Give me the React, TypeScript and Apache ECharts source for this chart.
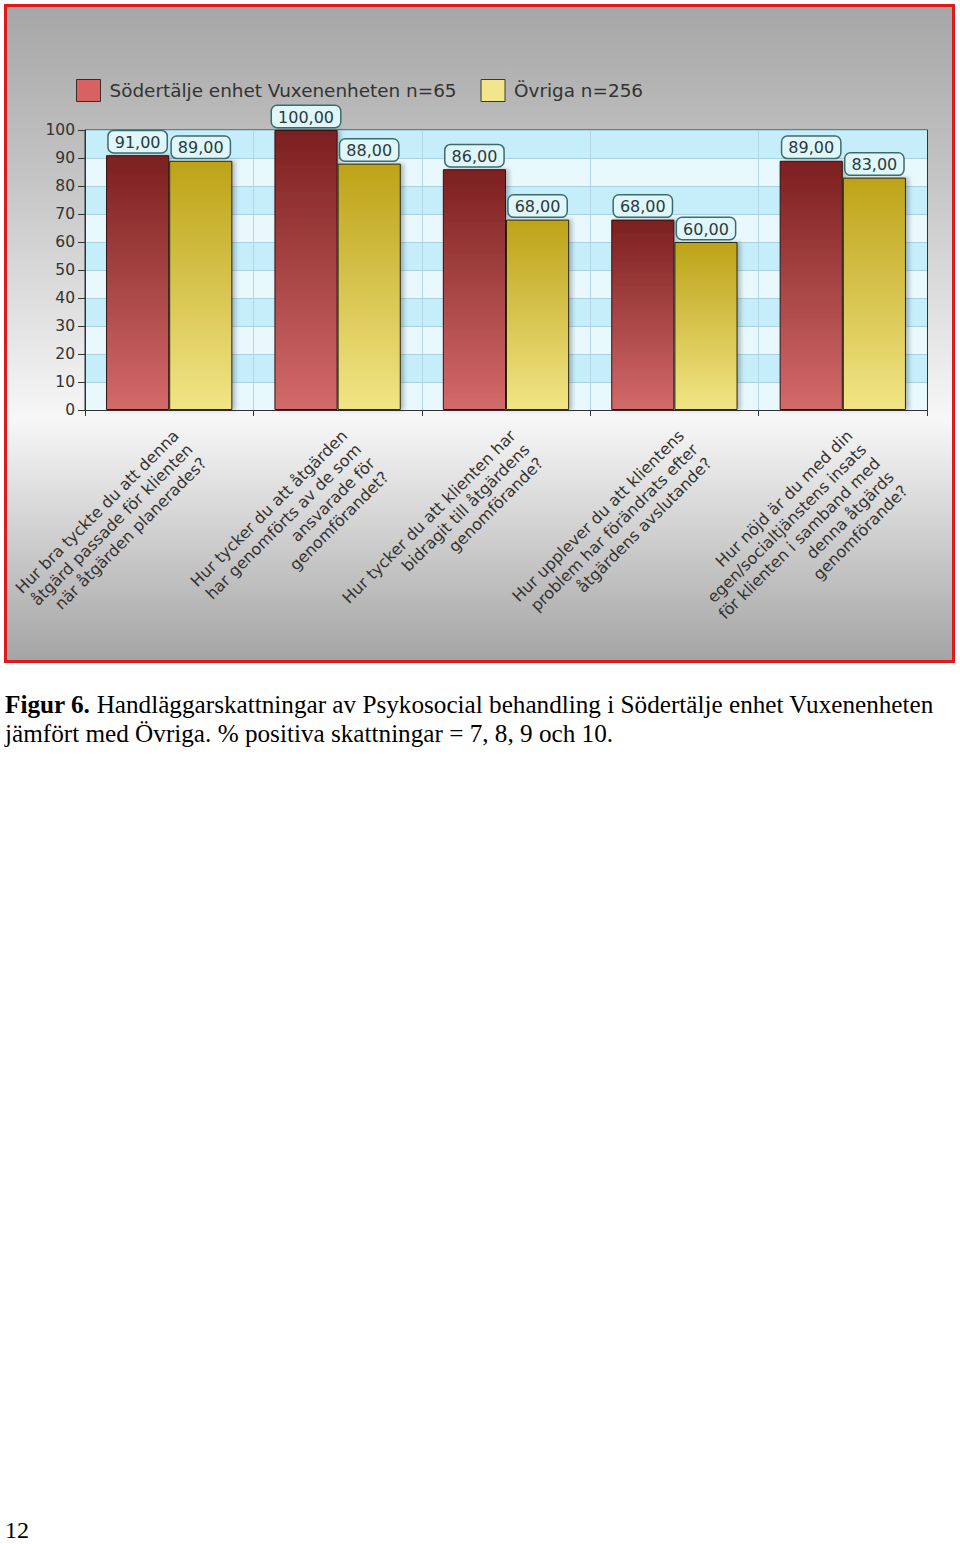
import React, { useEffect, useRef } from "react";
import * as echarts from "echarts";

const categories = [
  "Hur bra tyckte du att denna\nåtgärd passade för klienten\nnär åtgärden planerades?",
  "Hur tycker du att åtgärden\nhar genomförts av de som\nansvarade för\ngenomförandet?",
  "Hur tycker du att klienten har\nbidragit till åtgärdens\ngenomförande?",
  "Hur upplever du att klientens\nproblem har förändrats efter\nåtgärdens avslutande?",
  "Hur nöjd är du med din\negen/socialtjänstens insats\nför klienten i samband med\ndenna åtgärds\ngenomförande?",
];
const seriesNames = ["Södertälje enhet Vuxenenheten n=65", "Övriga n=256"];
const sodertaljeValues = [91, 100, 86, 68, 89];
const ovrigaValues = [89, 88, 68, 60, 83];
const yMin = 0;
const yMax = 100;
const yInterval = 10;
const captionBold = "Figur 6.";
const captionLine1 = " Handläggarskattningar av Psykosocial behandling i Södertälje enhet Vuxenenheten";
const captionLine2 = "jämfört med Övriga. % positiva skattningar = 7, 8, 9 och 10.";
const pageNumber = "12";

const FONT = "'DejaVu Sans', Verdana, sans-serif";
const SERIF = "'Liberation Serif', 'Times New Roman', serif";

export default function App() {
  const ref = useRef<HTMLDivElement>(null);
  useEffect(() => {
    if (!ref.current) return;
    const chart = echarts.init(ref.current, null, { renderer: "svg" });
    const valueLabel = {
      show: true,
      position: "top" as const,
      distance: 3,
      formatter: (p: any) => Number(p.value).toFixed(2).replace(".", ","),
      fontFamily: FONT,
      fontSize: 16,
      color: "#2b3a3a",
      backgroundColor: "#dff7fb",
      borderColor: "#3d6b6b",
      borderWidth: 1.5,
      borderRadius: 5,
      padding: [3, 6, 2, 6],
    };
    chart.setOption({
      animation: false,
      backgroundColor: "#ffffff",
      graphic: [
        {
          type: "rect",
          z: -10,
          shape: { x: 5.5, y: 5.5, width: 948, height: 656 },
          style: {
            fill: new echarts.graphic.LinearGradient(0, 0, 0, 1, [
              { offset: 0, color: "#a6a6a6" },
              { offset: 0.25, color: "#c3c3c3" },
              { offset: 0.63, color: "#f7f7f7" },
              { offset: 1, color: "#a4a4a4" },
            ]),
            stroke: "#e01a1a",
            lineWidth: 3,
          },
        },
        {
          type: "text",
          left: 5,
          top: 692,
          style: {
            text: "{b|" + captionBold + "}" + captionLine1,
            font: "25.2px " + SERIF,
            fill: "#000",
            rich: { b: { fontWeight: "bold", fontSize: 25.2, fontFamily: SERIF, fill: "#000" } },
          },
        },
        {
          type: "text",
          left: 5,
          top: 721,
          style: { text: captionLine2, font: "25.2px " + SERIF, fill: "#000" },
        },
        {
          type: "text",
          left: 5,
          top: 1518,
          style: { text: pageNumber, font: "24px " + SERIF, fill: "#000" },
        },
      ],
      legend: {
        left: 76,
        top: 79,
        padding: 0,
        itemWidth: 24,
        itemHeight: 22,
        itemGap: 24,
        icon: "rect",
        textStyle: { fontFamily: FONT, fontSize: 18.4, color: "#333", padding: [0, 0, 0, 4] },
        data: [
          { name: seriesNames[0], itemStyle: { color: "#d86262", borderColor: "#3a2a2a", borderWidth: 1 } },
          { name: seriesNames[1], itemStyle: { color: "#f2e68c", borderColor: "#3a3a2a", borderWidth: 1 } },
        ],
      },
      grid: {
        left: 85,
        top: 130,
        width: 842,
        height: 280,
        show: true,
        backgroundColor: "#dff4fb",
        borderColor: "#333",
        borderWidth: 1,
      },
      xAxis: [
        {
          type: "category",
          data: categories,
          axisLine: { lineStyle: { color: "#333" } },
          axisTick: { show: true, length: 6, interval: 0, lineStyle: { color: "#333" } },
          splitLine: { show: true, interval: 0, lineStyle: { color: "#b4d6e2" } },
          axisLabel: {
            interval: 0,
            rotate: 45,
            align: "right",
            verticalAlign: "top",
            margin: 16,
            fontFamily: FONT,
            fontSize: 16,
            lineHeight: 19.5,
            color: "#333",
          },
        },
        {
          type: "category",
          position: "top",
          data: categories,
          axisLine: { show: true, lineStyle: { color: "#333" } },
          axisTick: { show: false },
          axisLabel: { show: false },
          splitLine: { show: false },
        },
      ],
      yAxis: [
        {
          type: "value",
          min: yMin,
          max: yMax,
          interval: yInterval,
          axisLine: { show: true, lineStyle: { color: "#333" } },
          axisTick: { show: true, length: 7, lineStyle: { color: "#333" } },
          axisLabel: { fontFamily: FONT, fontSize: 15.5, color: "#333", margin: 10 },
          splitLine: { show: true, lineStyle: { color: "#a9d2e0" } },
          splitArea: { show: true, areaStyle: { color: ["#e8f8fd", "#c6eefa"] } },
        },
        {
          type: "value",
          position: "right",
          min: yMin,
          max: yMax,
          interval: yInterval,
          axisLine: { show: true, lineStyle: { color: "#333" } },
          axisTick: { show: false },
          axisLabel: { show: false },
          splitLine: { show: false },
        },
      ],
      series: [
        {
          name: seriesNames[0],
          type: "bar",
          data: sodertaljeValues,
          barGap: "0%",
          barCategoryGap: "25%",
          itemStyle: {
            color: new echarts.graphic.LinearGradient(0, 0, 0, 1, [
              { offset: 0, color: "#7c1f1f" },
              { offset: 1, color: "#d36a6a" },
            ]),
            borderColor: "#2a1515",
            borderWidth: 1,
            shadowColor: "rgba(0,0,0,0.25)",
            shadowBlur: 4,
            shadowOffsetX: 3,
          },
          label: valueLabel,
        },
        {
          name: seriesNames[1],
          type: "bar",
          data: ovrigaValues,
          barGap: "0%",
          barCategoryGap: "25%",
          itemStyle: {
            color: new echarts.graphic.LinearGradient(0, 0, 0, 1, [
              { offset: 0, color: "#bda318" },
              { offset: 1, color: "#f1e585" },
            ]),
            borderColor: "#2a2515",
            borderWidth: 1,
            shadowColor: "rgba(0,0,0,0.25)",
            shadowBlur: 4,
            shadowOffsetX: 3,
          },
          label: valueLabel,
        },
      ],
    });
    return () => chart.dispose();
  }, []);
  return (
    <div style={{ position: "absolute", left: 0, top: 0, width: 960, height: 1544, background: "#fff" }}>
      <div ref={ref} style={{ width: 960, height: 1544 }} />
    </div>
  );
}
